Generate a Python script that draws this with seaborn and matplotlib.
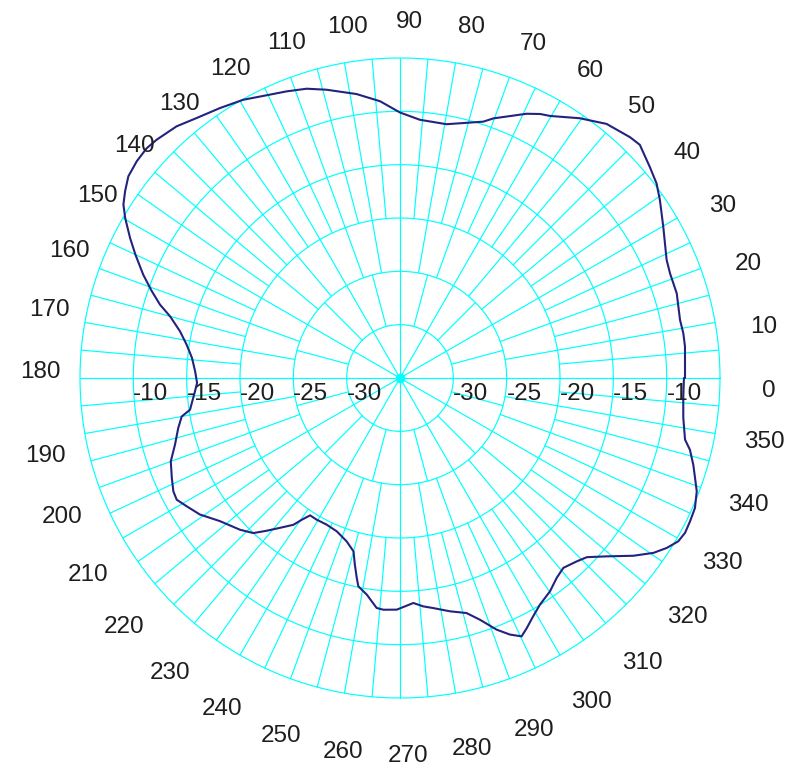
import numpy as np
import matplotlib
matplotlib.use("Agg")
import matplotlib.pyplot as plt
import matplotlib.transforms as mtransforms
import seaborn as sns
import pandas as pd

# Measured radiation pattern (angle in degrees, level in dB)
angle_deg = [0, 6.3, 9, 11.7, 17, 21.2, 23.9, 29.9, 34.4, 37.2, 40.2, 44.2, 46.3,
             50.9, 53, 55.3, 60.2, 62, 64.4, 70.2, 72, 79.6, 85.6, 90, 94.1, 98.7,
             104.3, 107.9, 111.6, 115.2, 119.4, 123.7, 128, 131.6, 135.6, 137.8,
             140.5, 143.4, 145.8, 147.9, 149.8, 152.6, 155, 158.1, 160.7, 163, 165,
             168, 171.1, 174.5, 178.1, 181.4, 183.7, 188.6, 190, 192.7, 196.5, 200,
             203.7, 206.6, 208.6, 211, 214.3, 218.5, 223.5, 226.6, 228.9, 231.3, 234,
             235.3, 236.8, 239.5, 243.4, 247.6, 251.9, 255, 256.4, 257.8, 258.7,
             261.3, 264.2, 265.9, 269.2, 273.4, 275.8, 278.2, 282.1, 285.8, 288.3,
             291, 293.2, 295.2, 296.9, 299.2, 301.7, 305.1, 308.1, 310.7, 313.9,
             316.2, 319.2, 322.7, 325.4, 327.5, 329.6, 331.5, 333.7, 336.2, 339.1,
             341.3, 343.5, 346.1, 347.8, 352, 356, 360]
level_db = [-8.28, -8.12, -8.11, -8.19, -7.87, -7.85, -7.66, -6.53, -5.47, -4.81,
            -4.34, -3.64, -3.78, -4.30, -4.85, -5.38, -6.69, -6.97, -7.53, -9.13,
            -9.73, -10.81, -10.72, -10.11, -8.99, -8.07, -7.11, -6.50, -6.10, -5.70,
            -5.06, -4.58, -4.06, -3.45, -3.07, -2.94, -3.03, -3.28, -3.84, -4.39,
            -5.19, -6.50, -7.63, -9.06, -10.34, -11.47, -12.69, -13.91, -14.75,
            -15.41, -15.78, -15.97, -15.74, -15.09, -14.22, -13.69, -13.00, -12.13,
            -11.64, -11.24, -11.16, -11.66, -12.29, -13.44, -14.33, -14.99, -16.00,
            -17.00, -17.99, -18.84, -19.61, -19.59, -19.63, -19.45, -18.89, -18.17,
            -17.00, -15.82, -15.08, -14.45, -13.33, -13.22, -13.28, -13.87, -13.48,
            -13.21, -12.63, -12.10, -11.13, -9.73, -8.83, -8.23, -8.72, -9.41,
            -10.03, -10.55, -11.19, -11.52, -11.13, -10.73, -9.41, -7.50, -6.13,
            -5.35, -4.75, -4.59, -4.67, -4.78, -5.22, -5.80, -6.32, -7.00, -7.66,
            -8.18, -8.38, -8.38]

# Grid definition
ring_db = [-30, -25, -20, -15, -10, -5]
ring_spoke_step = [30, 15, 10, 5, 5, 5]
r_min, r_max = -35, -5
radial_labels = ["-30", "-25", "-20", "-15", "-10"]
angle_ticks = list(range(0, 360, 10))

GRID = "#00ffff"
TRACE = "#23237f"
TEXT = "#1e1e1e"

sns.set_theme(style="white")
plt.rcParams["font.family"] = ["Liberation Sans", "DejaVu Sans"]

W, H, DPI = 799, 770, 100
fig = plt.figure(figsize=(W / DPI, H / DPI), dpi=DPI)
cx, cy, R = 400, 378, 320
ax = fig.add_axes([(cx - R) / W, (H - cy - R) / H, 2 * R / W, 2 * R / H],
                  projection="polar")
ax.set_ylim(r_min, r_max)
ax.set_axis_off()
db_per_px = (r_max - r_min) / R

# concentric rings
full = np.linspace(0, 2 * np.pi, 721)
for rv in ring_db:
    ax.plot(full, np.full_like(full, rv), color=GRID, lw=0.85, zorder=1,
            clip_on=False)

# spokes: density increases ring by ring
inner = r_min
for rv, step in zip(ring_db, ring_spoke_step):
    for a in np.arange(0, 360, step):
        t = np.deg2rad(a)
        ax.plot([t, t], [inner, rv], color=GRID, lw=0.85, zorder=1,
                clip_on=False)
    inner = rv
ax.plot([0], [r_min], marker="o", ms=6, color=GRID, zorder=2, clip_on=False)

# pattern trace
df = pd.DataFrame({"theta": np.deg2rad(angle_deg), "level": level_db})
sns.lineplot(data=df, x="theta", y="level", ax=ax, sort=False, color=TRACE,
             lw=1.5, zorder=3, legend=False, estimator=None)
for ln in ax.lines:
    ln.set_clip_on(False)

# radial level labels on both sides of the centre
below = mtransforms.offset_copy(ax.transData, fig=fig, x=0, y=-5, units="dots")
for lab, rv in zip(radial_labels, ring_db):
    for side in (0.0, np.pi):
        ax.text(side, rv, lab, ha="left", va="top", fontsize=17.5,
                color=TEXT, transform=below, zorder=4)

# angle labels around the outside
lower = mtransforms.offset_copy(ax.transData, fig=fig, x=0, y=-3, units="dots")
for a in angle_ticks:
    t = np.deg2rad(a)
    rad_px = (365.6 + 4.5 * np.cos(t) - 8 * np.sin(t)
              - 1.5 * np.cos(2 * t) + 2.6 * np.sin(2 * t))
    ang = a - 1.5 if a <= 180 else a + 1.2 - 0.8 * np.cos(t)
    ax.text(np.deg2rad(ang), r_min + rad_px * db_per_px, str(a),
            ha="center", va="center", fontsize=17.5, color=TEXT,
            transform=lower)

fig.savefig("out.png", dpi=DPI, facecolor="white")
